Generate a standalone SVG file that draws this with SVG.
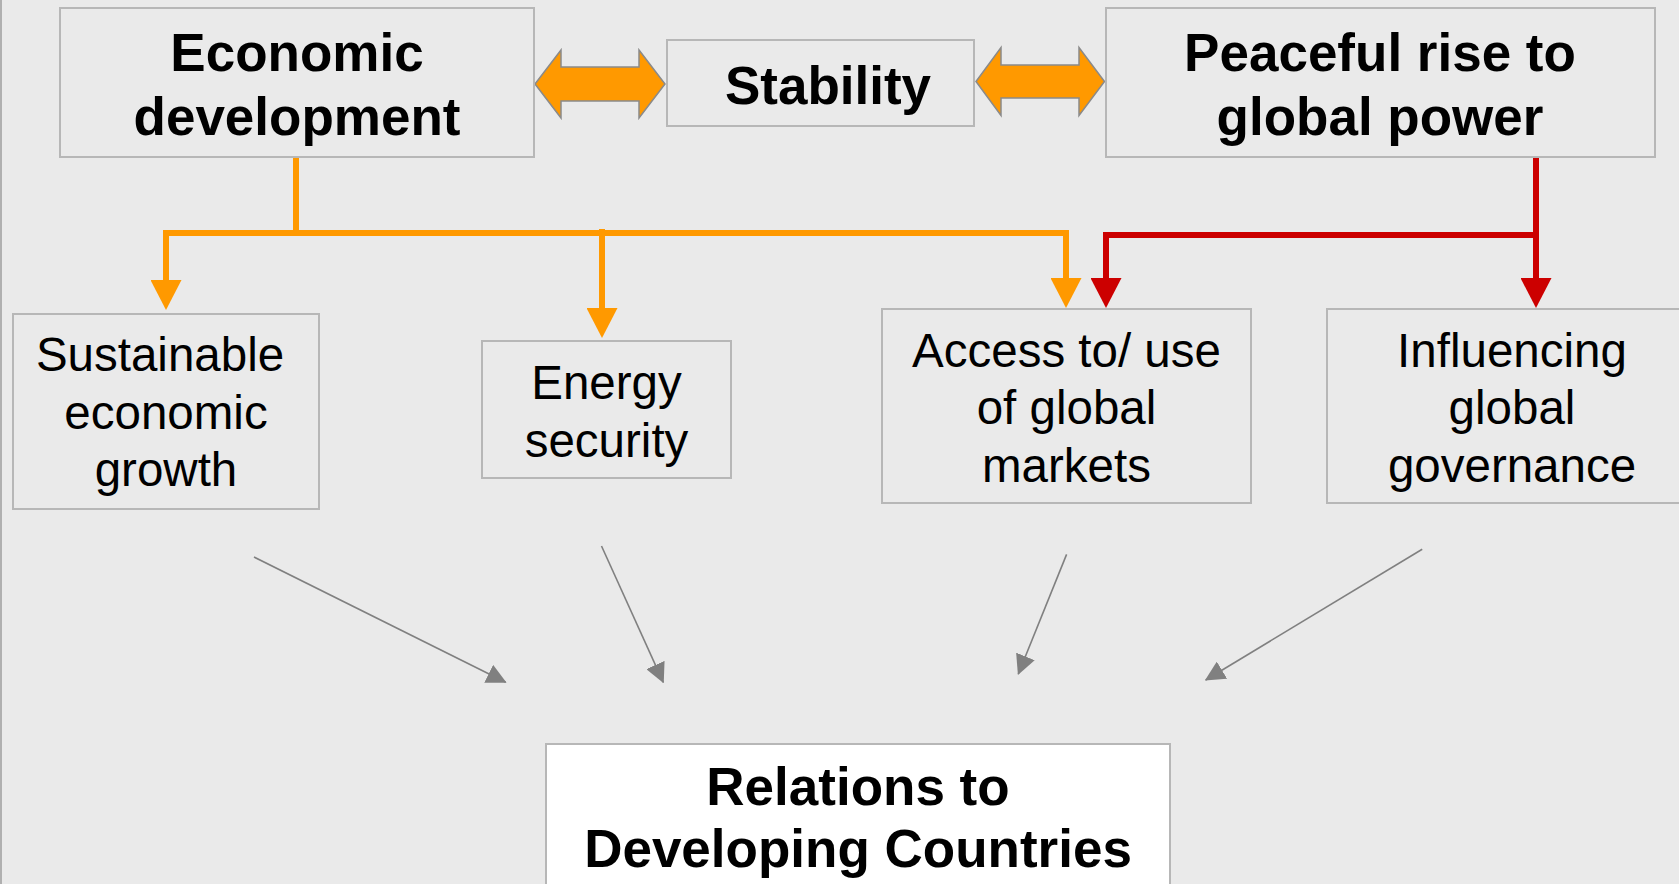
<svg xmlns="http://www.w3.org/2000/svg" width="1679" height="884" viewBox="0 0 1679 884">
  <style>
    .box { fill: #eaeaea; stroke: #b7b7b7; stroke-width: 2; }
    .white { fill: #ffffff; }
    .bold { font-family: "Liberation Sans", Arial, sans-serif; font-weight: bold; font-size: 53px; fill: #000; text-anchor: middle; }
    .reg { font-family: "Liberation Sans", Arial, sans-serif; font-size: 47.5px; fill: #000; text-anchor: middle; }
    .dbl { fill: #ff9900; stroke: #8a8a8a; stroke-width: 1.5; stroke-linejoin: miter; }
    .orange { fill: none; stroke: #ff9900; stroke-width: 6; }
    .red { fill: none; stroke: #cc0000; stroke-width: 6; }
    .grey { fill: none; stroke: #808080; stroke-width: 1.6; }
  </style>
  <defs>
    <marker id="headOrange" markerUnits="userSpaceOnUse" markerWidth="30" markerHeight="31" refX="0" refY="15.5" orient="auto">
      <path d="M0,0 L30,15.5 L0,31 z" fill="#ff9900"/>
    </marker>
    <marker id="headRed" markerUnits="userSpaceOnUse" markerWidth="30" markerHeight="31" refX="0" refY="15.5" orient="auto">
      <path d="M0,0 L30,15.5 L0,31 z" fill="#cc0000"/>
    </marker>
    <marker id="headGrey" markerUnits="userSpaceOnUse" markerWidth="20" markerHeight="20" refX="19" refY="10" orient="auto">
      <path d="M0,0 L20,10 L0,20 z" fill="#808080"/>
    </marker>
  </defs>

  <rect x="0" y="0" width="1679" height="884" fill="#eaeaea"/>
  <rect x="0" y="0" width="2" height="884" fill="#b0b0b0"/>

  <g id="connectors">
    <polygon class="dbl" points="535,84 561,50 561,67 639,67 639,50 665,84 639,118 639,101 561,101 561,118"/>
    <polygon class="dbl" points="976,81.5 1001,47.5 1001,65 1079,65 1079,47.5 1104.5,81.5 1079,115.5 1079,98 1001,98 1001,115.5"/>

    <path class="orange" d="M296,157 V233"/>
    <path class="orange" d="M166,280 V233 H1066 V278" marker-end="url(#headOrange)"/>
    <path class="orange" d="M166,233 V280" marker-end="url(#headOrange)"/>
    <path class="orange" d="M602,229 V308" marker-end="url(#headOrange)"/>

    <path class="red" d="M1536,157 V278" marker-end="url(#headRed)"/>
    <path class="red" d="M1536,235 H1106 V278" marker-end="url(#headRed)"/>

    <line class="grey" x1="254" y1="557" x2="505.7" y2="682.3" marker-end="url(#headGrey)"/>
    <line class="grey" x1="601.5" y1="546" x2="663.3" y2="682.3" marker-end="url(#headGrey)"/>
    <line class="grey" x1="1066.6" y1="554.4" x2="1018.3" y2="674" marker-end="url(#headGrey)"/>
    <line class="grey" x1="1422.2" y1="549.2" x2="1205.7" y2="680" marker-end="url(#headGrey)"/>
  </g>

  <g id="economic-development">
    <rect class="box" x="60" y="8" width="474" height="149"/>
    <text class="bold" x="297" y="71">Economic</text>
    <text class="bold" x="297" y="135">development</text>
  </g>

  <g id="stability">
    <rect class="box" x="667" y="40" width="307" height="86"/>
    <text class="bold" x="828" y="103.5">Stability</text>
  </g>

  <g id="peaceful-rise">
    <rect class="box" x="1106" y="8" width="549" height="149"/>
    <text class="bold" x="1380" y="71">Peaceful rise to</text>
    <text class="bold" x="1380" y="135">global power</text>
  </g>

  <g id="sustainable-growth">
    <rect class="box" x="13" y="314" width="306" height="195"/>
    <text class="reg" x="160" y="371">Sustainable</text>
    <text class="reg" x="166" y="428.5">economic</text>
    <text class="reg" x="166" y="486">growth</text>
  </g>

  <g id="energy-security">
    <rect class="box" x="482" y="341" width="249" height="137"/>
    <text class="reg" x="606.5" y="398.5">Energy</text>
    <text class="reg" x="606.5" y="456.5">security</text>
  </g>

  <g id="global-markets">
    <rect class="box" x="882" y="309" width="369" height="194"/>
    <text class="reg" x="1066.5" y="366.5">Access to/ use</text>
    <text class="reg" x="1066.5" y="423.5">of global</text>
    <text class="reg" x="1066.5" y="481.5">markets</text>
  </g>

  <g id="global-governance">
    <rect class="box" x="1327" y="309" width="370" height="194"/>
    <text class="reg" x="1512" y="366.5">Influencing</text>
    <text class="reg" x="1512" y="423.5">global</text>
    <text class="reg" x="1512" y="481.5">governance</text>
  </g>

  <g id="developing-countries">
    <rect class="box white" x="546" y="744" width="624" height="160"/>
    <text class="bold" x="858" y="805">Relations to</text>
    <text class="bold" x="858" y="867">Developing Countries</text>
  </g>
</svg>
